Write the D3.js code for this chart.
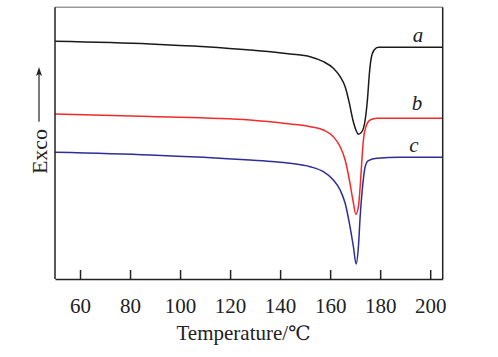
<!DOCTYPE html>
<html><head><meta charset="utf-8">
<script src="https://cdn.jsdelivr.net/npm/d3@7"></script>
<style>body{margin:0;background:#fff}svg{display:block}text{font-family:"Liberation Serif","Times New Roman",serif}</style>
</head><body>
<script>
// Temperature (°C) and heat-flow (arbitrary units, exo up)
const tempA = [50, 88, 128, 138, 144, 152, 157.3, 161.3, 164, 166, 167.7, 169.1, 170.3, 171.3, 172.7, 174, 174.9, 175.7, 176.4, 177.6, 179.3, 188, 205];
const flowA = [237.7, 235, 229, 226.7, 225, 222.3, 217.3, 210.7, 202.3, 192.3, 175.7, 159, 149, 144.7, 147.3, 159, 179, 205.7, 220.7, 229, 231.7, 231.7, 231.7];
const tempB = [50, 88, 128, 138, 144, 152, 157.3, 161.3, 164, 166, 167.7, 169.1, 170.3, 171.3, 172, 172.7, 173.3, 174.3, 176, 178.7, 188, 205];
const flowB = [165, 162.5, 159, 156.7, 155, 152.3, 149, 142.3, 132.3, 119, 99, 79, 64.7, 72.3, 92.3, 119, 139, 152.3, 159, 160.7, 160.7, 160.7];
const tempC = [50, 88, 128, 138, 144, 152, 157.3, 161.3, 164, 166, 167.7, 169.3, 170.4, 171.3, 172, 173.1, 174, 175.3, 178.7, 188, 205];
const flowC = [126.7, 124, 119, 117.3, 115.7, 112.3, 107.3, 99, 89, 75.7, 55.7, 32.3, 15, 32.3, 62.3, 95.7, 112.3, 118.3, 120.7, 121.7, 121.7];
const seriesNames = ["a", "b", "c"];
const seriesColors = ["#1a1a1a", "#f42a2a", "#2e2e96"];
const xTicks = [60, 80, 100, 120, 140, 160, 180, 200];
const xLabelMain = "Temperature/";
const xLabelUnit = "\u2103";
const yLabel = "Exco";

const W = 498, H = 357;
const m = {left: 55, right: 442.7, top: 7.3, bottom: 279};
const svg = d3.select("body").append("svg").attr("width", W).attr("height", H);
const x = d3.scaleLinear().domain([50, 205]).range([m.left, m.right]);
const y = d3.scaleLinear().domain([0, 272]).range([m.bottom, m.bottom - 272]);

const series = [
  {name: seriesNames[0], t: tempA, v: flowA, color: seriesColors[0], lx: 418, ly: 35},
  {name: seriesNames[1], t: tempB, v: flowB, color: seriesColors[1], lx: 417, ly: 103},
  {name: seriesNames[2], t: tempC, v: flowC, color: seriesColors[2], lx: 414, ly: 145}
];
const line = d3.line().x(d => x(d[0])).y(d => y(d[1])).curve(d3.curveMonotoneX);
series.forEach(s => {
  svg.append("path").datum(s.t.map((t, i) => [t, s.v[i]]))
    .attr("d", line).attr("fill", "none").attr("stroke", s.color).attr("stroke-width", 1.5);
  svg.append("text").attr("x", s.lx).attr("y", s.ly + 7).attr("text-anchor", "middle")
    .attr("font-style", "italic").attr("font-size", 21).attr("fill", "#222").text(s.name);
});

// frame
svg.append("line").attr("x1", m.left).attr("x2", m.right).attr("y1", m.top).attr("y2", m.top)
  .attr("stroke", "#999").attr("stroke-width", 1.5);
svg.append("line").attr("x1", m.left).attr("x2", m.left).attr("y1", m.top).attr("y2", m.bottom)
  .attr("stroke", "#222").attr("stroke-width", 1.5);
svg.append("line").attr("x1", m.right).attr("x2", m.right).attr("y1", m.top).attr("y2", m.bottom)
  .attr("stroke", "#222").attr("stroke-width", 1.5);

const xAxis = d3.axisBottom(x).tickValues(xTicks).tickSizeInner(-9).tickSizeOuter(0).tickPadding(19);
const gx = svg.append("g").attr("transform", `translate(0,${m.bottom})`).call(xAxis);
gx.select(".domain").attr("stroke", "#222").attr("stroke-width", 1.5);
gx.selectAll(".tick line").attr("stroke", "#222").attr("stroke-width", 1.5);
gx.selectAll(".tick text").attr("font-size", 21).attr("font-family", "Liberation Serif, serif").attr("fill", "#222");

const xl = svg.append("text").attr("x", 243.5).attr("y", 340).attr("text-anchor", "middle")
  .attr("font-size", 21).attr("fill", "#222");
xl.append("tspan").text(xLabelMain);
xl.append("tspan").attr("font-family", "DejaVu Serif, Liberation Serif, serif").attr("font-size", 20).text(xLabelUnit);

svg.append("text").attr("transform", "translate(46.5,151.5) rotate(-90)").attr("text-anchor", "middle")
  .attr("font-size", 22).attr("fill", "#222").text(yLabel);
// arrow
svg.append("line").attr("x1", 39).attr("x2", 39).attr("y1", 121.7).attr("y2", 72)
  .attr("stroke", "#222").attr("stroke-width", 1.2);
svg.append("path").attr("d", "M39,67 L36,76 L39,74 L42,76 Z").attr("fill", "#222");
</script>
</body></html>
